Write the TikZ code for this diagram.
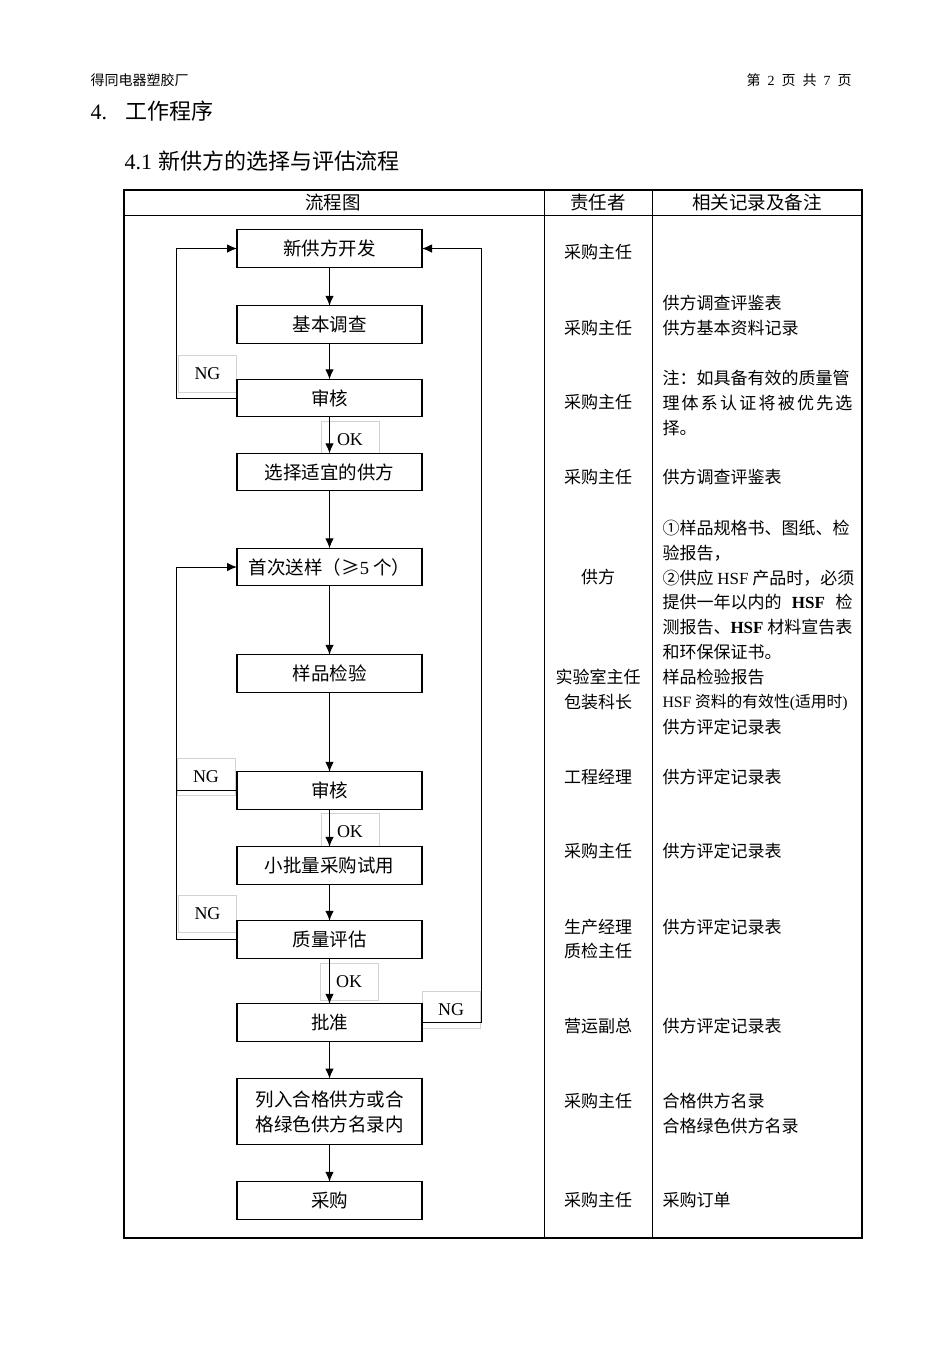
\documentclass[tikz,border=0pt]{standalone}
\usepackage{fontspec}
\setmainfont{Noto Sans CJK SC}
\newfontfamily\lat{Liberation Serif}
\usetikzlibrary{arrows.meta,positioning}

\begin{document}
\begin{tikzpicture}[
        x=1pt, y=-1pt,
        >={Latex[length=10pt,width=8.5pt]},
        every path/.style={line width=1pt},
        box/.style={draw, fill=white, line width=1.1pt, outer sep=0pt, minimum width=185pt, minimum height=37.5pt, inner sep=0pt, align=center, font=\fontsize{18.5}{25}\selectfont},
        tag/.style={draw=gray!35, line width=0.6pt, minimum width=58pt, minimum height=37pt, inner sep=0pt, font=\lat\fontsize{18}{20}\selectfont},
        who/.style={inner sep=0pt, align=center, font=\fontsize{17}{24.5}\selectfont},
        note/.style={inner sep=0pt, anchor=west, align=left, font=\fontsize{17}{24.8}\selectfont},
        head/.style={inner sep=0pt, font=\fontsize{18.5}{22}\selectfont}
    ]

    \fill[white] (0,0) rectangle (950,1345);
    \useasboundingbox (0,0) rectangle (950,1345);

    % Page head
    \node[anchor=west, inner sep=0pt, font=\fontsize{14}{16}\selectfont] (company) at (90,80) {得同电器塑胶厂};
    \node[anchor=east, inner sep=0pt, font=\fontsize{14}{16}\selectfont] (pageno) at (852,80)
        {第\hspace{7pt}{\lat 2}\hspace{7pt}页\hspace{7pt}共\hspace{7pt}{\lat 7}\hspace{7pt}页};
    \node[anchor=west, inner sep=0pt, font=\fontsize{22}{26}\selectfont] (sec) at (90,111) {{\lat 4.}\hspace{18pt}工作程序};
    \node[anchor=west, inner sep=0pt, font=\fontsize{22}{26}\selectfont] (subsec) at (124,161) {{\lat 4.1}\hspace{6pt}新供方的选择与评估流程};

    % Table
    \draw[line width=1.1pt] (124,190) rectangle (862,1238);
    \draw (124,215) -- (862,215);
    \draw (544,190) -- (544,1238);
    \draw (652,190) -- (652,1238);
    \node[head] (hflow) at (333,202) {流程图};
    \node[head] (hwho) at (598,202) {责任者};
    \node[head] (hnote) at (757,202) {相关记录及备注};

    % Labels
    \node[tag] (ng1) at (207.5,374) {NG};
    \node[tag] (ok1) at (350,440) {OK};
    \node[tag] (ng2) at (206,777) {NG};
    \node[tag] (ok2) at (350,832) {OK};
    \node[tag] (ng3) at (207.5,914) {NG};
    \node[tag] (ok3) at (349,982) {OK};
    \node[tag] (ng4) at (451,1010) {NG};

    % Nodes
    \node[box] (kf) at (329.5,248.5) {新供方开发};
    \node[box] (jb) at (329.5,324.5) {基本调查};
    \node[box] (sh1) at (329.5,398) {审核};
    \node[box] (xz) at (329.5,472) {选择适宜的供方};
    \node[box] (sy) at (329.5,567) {首次送样（≥{\lat 5} 个）};
    \node[box] (yp) at (329.5,673.5) {样品检验};
    \node[box] (sh2) at (329.5,790.5) {审核};
    \node[box] (xp) at (329.5,865.5) {小批量采购试用};
    \node[box] (zl) at (329.5,939.5) {质量评估};
    \node[box] (pz) at (329.5,1022.5) {批准};
    \node[box, minimum height=66pt] (lr) at (329.5,1111.5) {列入合格供方或合\\格绿色供方名录内};
    \node[box] (cg) at (329.5,1200.5) {采购};

    % Edges
    \draw[->] (kf) -- (jb);
    \draw[->] (jb) -- (sh1);
    \draw[->] (sh1) -- (xz);
    \draw[->] (xz) -- (sy);
    \draw[->] (sy) -- (yp);
    \draw[->] (yp) -- (sh2);
    \draw[->] (sh2) -- (xp);
    \draw[->] (xp) -- (zl);
    \draw[->] (zl) -- (pz);
    \draw[->] (pz) -- (lr);
    \draw[->] (lr) -- (cg);

    \draw[->] (sh1.west) -- ++(-61,0) |- (kf.west);
    \draw[->] (pz.east) -- ++(59,0) |- (kf.east);
    \draw[->] (zl.west) -- ++(-61,0) |- (sy.west);
    \draw (sh2.west) -- ++(-61,0);

    % Who
    \node[who] (w1) at (598,252) {采购主任};
    \node[who] (w2) at (598,328) {采购主任};
    \node[who] (w3) at (598,402) {采购主任};
    \node[who] (w4) at (598,477) {采购主任};
    \node[who] (w5) at (598,577) {供方};
    \node[who] (w6) at (598,689.5) {实验室主任\\包装科长};
    \node[who] (w7) at (598,777) {工程经理};
    \node[who] (w8) at (598,851) {采购主任};
    \node[who] (w9) at (598,939) {生产经理\\质检主任};
    \node[who] (w10) at (598,1026) {营运副总};
    \node[who] (w11) at (598,1101) {采购主任};
    \node[who] (w12) at (598,1200) {采购主任};

    % Records and remarks
    \node[note] (n1) at (662,315.5) {供方调查评鉴表\\供方基本资料记录};
    \node[note] (n2) at (662,403) {注：如具备有效的质量管\\
        \makebox[190pt][s]{理\hfill 体\hfill 系\hfill 认\hfill 证\hfill 将\hfill 被\hfill 优\hfill 先\hfill 选}\\择。};
    \node[note] (n3) at (662,477) {供方调查评鉴表};
    \node[note] (n4) at (662,590) {①样品规格书、图纸、检\\验报告，\\②供应 {\lat HSF} 产品时，必须\\
        \makebox[190pt][s]{提供一年以内的\hfill{\lat\bfseries HSF}\hfill 检}\\测报告、{\lat\bfseries HSF} 材料宣告表\\和环保保证书。};
    \node[note] (n5) at (662,677) {样品检验报告};
    \node[note, font=\fontsize{15.8}{20}\selectfont] (n6) at (662,703) {{\lat HSF} 资料的有效性{\lat (}适用时{\lat )}};
    \node[note] (n7) at (662,727) {供方评定记录表};
    \node[note] (n8) at (662,777) {供方评定记录表};
    \node[note] (n9) at (662,851) {供方评定记录表};
    \node[note] (n10) at (662,927) {供方评定记录表};
    \node[note] (n11) at (662,1026) {供方评定记录表};
    \node[note] (n12) at (662,1113.5) {合格供方名录\\合格绿色供方名录};
    \node[note] (n13) at (662,1200) {采购订单};

\end{tikzpicture}
\end{document}
